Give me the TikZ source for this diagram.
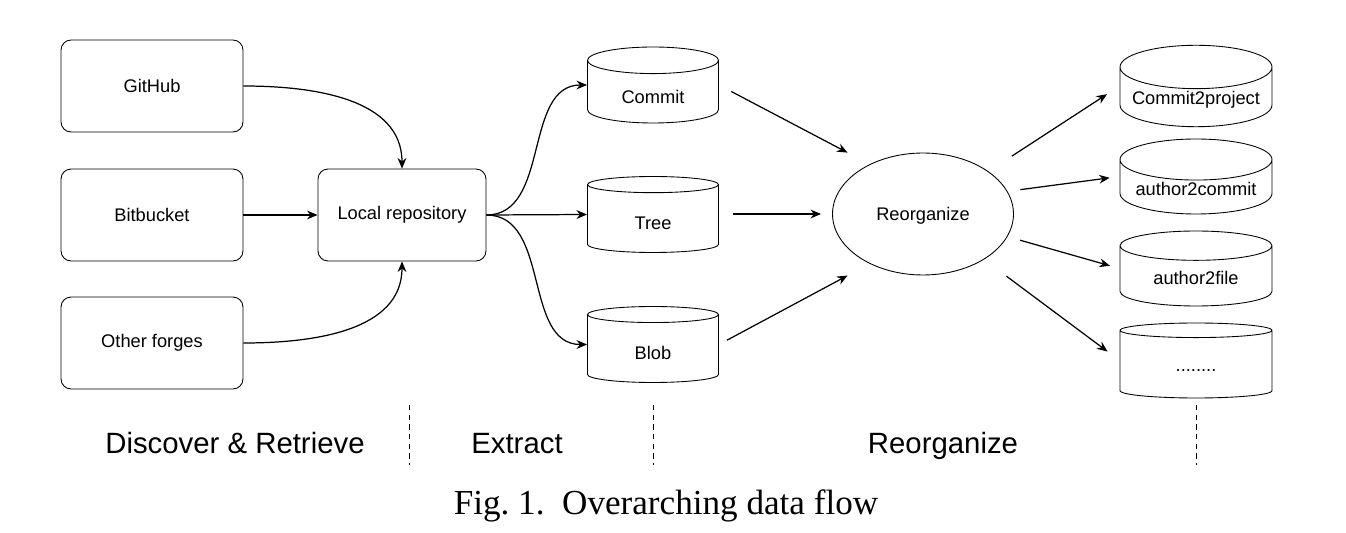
\documentclass[tikz,border=0pt]{standalone}
\usepackage{fontspec}
\setmainfont{Liberation Serif}
\setsansfont{Liberation Sans}
\usetikzlibrary{arrows.meta,shapes.geometric}

\begin{document}
\begin{tikzpicture}[x=0.02cm, y=-0.02cm, >={Stealth[length=6pt,width=5pt]}, line width=0.7pt,
  font=\sffamily\fontsize{10.4}{12}\selectfont,
  src/.style={draw, line width=0.5pt, rounded corners=0.2cm, minimum width=3.64cm, minimum height=1.84cm},
  cyl/.style={draw, line width=0.5pt, cylinder, shape border rotate=90, inner sep=1pt, anchor=shape center},
  store/.style={cyl, aspect=0.4, text height=12pt, text depth=1pt, minimum width=2.62cm, minimum height=1.52cm},
  table/.style={cyl, aspect=0.33, minimum width=3.04cm, minimum height=1.5cm},
  stage/.style={anchor=base, font=\sffamily\fontsize{16.7}{20}\selectfont},
  sep/.style={line width=0.5pt, dash pattern=on 3pt off 2.5pt}]
\useasboundingbox (0,0) rectangle (1346,533);

\node[src] (gh) at (152,86) {GitHub};
\node[src] (bb) at (152,215) {Bitbucket};
\node[src] (of) at (152,343) {Other forges};
\node[src, minimum width=3.36cm] (lr) at (402,215) {Local repository};

\node[store] (cm) at (653,85) {Commit};
\node[store] (tr) at (653,214.5) {Tree};
\node[store] (bl) at (653,344.5) {Blob};

\node[draw, line width=0.5pt, ellipse, inner sep=0pt, text height=7.5pt, text depth=0pt,
  minimum width=3.62cm, minimum height=2.44cm] (ro) at (923,214) {Reorganize};

\node[table] (cp) at (1196,86) {Commit2project};
\node[table] (ac) at (1196,176.5) {author2commit};
\node[table] (af) at (1196,268.5) {author2file};
\node[table, text height=7pt, text depth=0pt] (dt) at (1196,360.5) {........};

\draw[->] (gh.east) to[out=0,in=90] (lr.north);
\draw[->] (bb) -- (lr);
\draw[->] (of.east) to[out=0,in=-90] (lr.south);

\draw[->] (lr.east) to[out=0,in=180] (cm.west |- cm.shape center);
\draw[->] (lr.east) -- (tr.west |- tr.shape center);
\draw[->] (lr.east) to[out=0,in=180] (bl.west |- bl.shape center);

\draw[->, shorten <=0.28cm, shorten >=0.5cm] (cm.east |- cm.shape center) -- (ro.137);
\draw[->, shorten <=0.28cm, shorten >=0.22cm] (tr.east |- ro.west) -- (ro.west);
\draw[->, shorten <=0.18cm, shorten >=0.5cm] (bl.east |- bl.shape center) -- (ro.223);

\draw[->, shorten <=0.56cm, shorten >=0.3cm] (ro) -- (cp.west |- cp.shape center);
\draw[->, shorten <=0.26cm, shorten >=0.2cm] (ro.15) -- (ac.west |- ac.shape center);
\draw[->, shorten <=0.26cm, shorten >=0.2cm] (ro.-15) -- (af.west |- af.shape center);
\draw[->, shorten <=0.56cm, shorten >=0.3cm] (ro) -- (dt.west |- dt.shape center);

% stages
\draw[sep] (409,405) -- (409,465);
\draw[sep] (653,405) -- (653,465);
\draw[sep] (1196,405) -- (1196,465);
\node[stage] (s1) at (235,454) {Discover \& Retrieve};
\node[stage] (s2) at (517,454) {Extract};
\node[stage] (s3) at (943,454) {Reorganize};

\node[anchor=base, font=\rmfamily\fontsize{20}{24}\selectfont] (cap) at (666,515) {Fig.~1.\ \ Overarching data flow};
\end{tikzpicture}
\end{document}
